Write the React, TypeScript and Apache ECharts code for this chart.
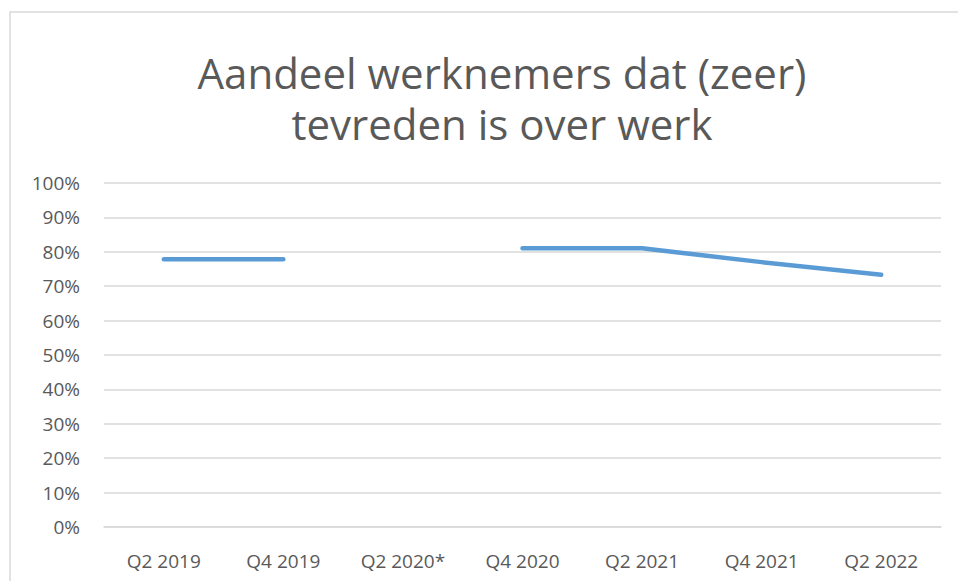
import React, { useEffect, useRef } from "react";
import * as echarts from "echarts";

const categories = ["Q2 2019", "Q4 2019", "Q2 2020*", "Q4 2020", "Q2 2021", "Q4 2021", "Q2 2022"];
const values: (number | null)[] = [77.8, 77.8, null, 81, 81, 77, 73.3];
const titleText = "Aandeel werknemers dat (zeer)\ntevreden is over werk";

const FONT = "'Open Sans', sans-serif";

export default function App() {
  const ref = useRef<HTMLDivElement>(null);
  useEffect(() => {
    if (!ref.current) return;
    const chart = echarts.init(ref.current, null, { renderer: "svg" });
    chart.setOption({
      animation: false,
      backgroundColor: "#ffffff",
      title: {
        text: titleText,
        left: 497,
        textAlign: "center",
        top: 42,
        textStyle: {
          fontFamily: FONT,
          fontSize: 42,
          fontWeight: "normal",
          color: "#595959",
          lineHeight: 51,
        },
      },
      graphic: [
        {
          type: "rect",
          shape: { x: 10, y: 12, width: 1000, height: 700 },
          style: { fill: "none", stroke: "#D9D9D9", lineWidth: 1.5 },
          silent: true,
        },
      ],
      grid: { left: 104, right: 17, top: 183, bottom: 54, containLabel: false },
      xAxis: {
        type: "category",
        data: categories,
        boundaryGap: true,
        axisLine: { show: true, lineStyle: { color: "#D9D9D9", width: 1.5 } },
        axisTick: { show: false },
        axisLabel: { color: "#595959", fontFamily: FONT, fontSize: 19, margin: 24 },
      },
      yAxis: {
        type: "value",
        min: 0,
        max: 100,
        interval: 10,
        axisLine: { show: false },
        axisTick: { show: false },
        splitLine: { lineStyle: { color: "#D9D9D9", width: 1.5 } },
        axisLabel: {
          color: "#595959",
          fontFamily: FONT,
          fontSize: 19,
          margin: 24,
          formatter: (v: number) => v + "%",
        },
      },
      series: [
        {
          type: "line",
          data: values,
          connectNulls: false,
          showSymbol: false,
          symbol: "none",
          lineStyle: { color: "#5B9BD5", width: 4.5, cap: "round", join: "round" },
        },
      ],
    });
    return () => chart.dispose();
  }, []);
  return <div ref={ref} style={{ position: "fixed", left: 0, top: 0, width: 958, height: 581 }} />;
}
